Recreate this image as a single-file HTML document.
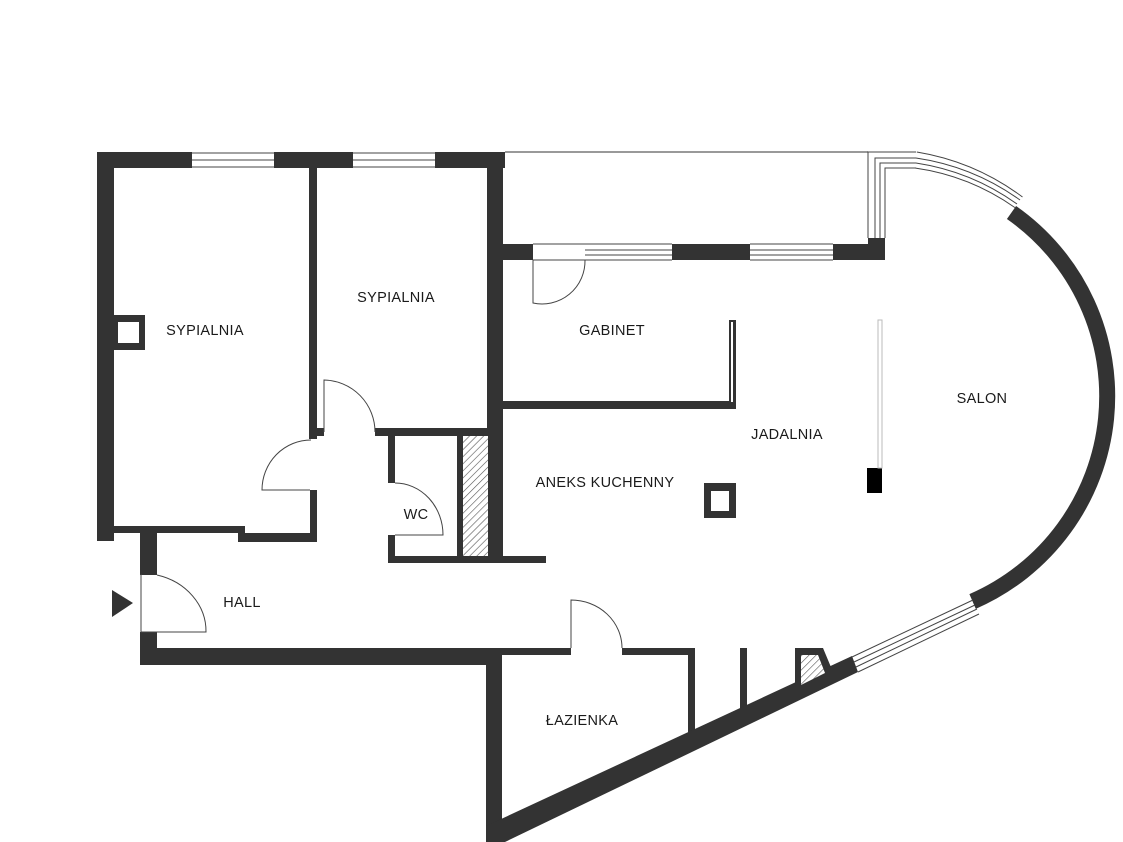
<!DOCTYPE html>
<html><head><meta charset="utf-8"><style>
html,body{margin:0;padding:0;background:#fff;}
svg{display:block;}
text{font-family:"Liberation Sans",sans-serif;font-size:14.5px;fill:#1a1a1a;text-anchor:middle;letter-spacing:0.3px;}
</style></head><body>
<svg width="1123" height="842" viewBox="0 0 1123 842" xmlns="http://www.w3.org/2000/svg">
<defs>
<pattern id="h" width="5" height="5" patternUnits="userSpaceOnUse" patternTransform="rotate(45)">
<rect width="5" height="5" fill="#fff"/><line x1="0" y1="0" x2="0" y2="5" stroke="#555" stroke-width="1.2"/>
</pattern>
</defs>
<g fill="#333">
<!-- top wall with windows -->
<rect x="97" y="152" width="95" height="16"/>
<rect x="274" y="152" width="79" height="16"/>
<rect x="435" y="152" width="70" height="16"/>
<!-- left wall -->
<rect x="97" y="152" width="17" height="389"/>
<!-- bedroom1 bottom -->
<rect x="97" y="526" width="145" height="7"/>
<rect x="238" y="533" width="79" height="9"/>
<rect x="238" y="526" width="7" height="16"/>
<!-- wall between bedrooms -->
<rect x="309" y="168" width="8" height="271"/>
<rect x="317" y="428" width="7" height="8"/>
<rect x="310" y="490" width="7" height="52"/>
<!-- right wall of bedrooms -->
<rect x="487" y="152" width="16" height="411"/>
<!-- WC -->
<rect x="375" y="428" width="115" height="8"/>
<rect x="388" y="428" width="7" height="55"/>
<rect x="388" y="535" width="7" height="28"/>
<rect x="388" y="556" width="158" height="7"/>
<rect x="457" y="436" width="6" height="122"/>
<!-- hall left -->
<rect x="140" y="533" width="17" height="42"/>
<rect x="140" y="632" width="17" height="33"/>
<rect x="140" y="648" width="362" height="17"/>
<!-- bathroom -->
<rect x="486" y="648" width="16" height="194"/>
<rect x="486" y="648" width="85" height="7"/>
<rect x="622" y="648" width="73" height="7"/>
<rect x="688" y="648" width="7" height="95"/>
<rect x="740" y="648" width="7" height="65"/>
<polygon points="795,648 823,648 833,672 801,688 795,690"/>
<polygon points="486,826 852,656 858,672 505,842 486,842"/>
<!-- gabinet top -->
<rect x="502" y="244" width="31" height="16"/>
<rect x="672" y="244" width="78" height="16"/>
<rect x="833" y="244" width="52" height="16"/>
<rect x="868" y="238" width="17" height="22"/>
<!-- gabinet bottom & right -->
<rect x="502" y="401" width="234" height="8"/>
<rect x="729" y="320" width="7" height="89"/>
<!-- columns -->
<rect x="113" y="315" width="32" height="35"/>
<rect x="704" y="483" width="32" height="35"/>
<!-- entry triangle -->
<polygon points="112,590 133,603 112,617"/>
</g>
<rect x="118" y="322" width="21" height="21" fill="#fff"/>
<rect x="711" y="491" width="18" height="20" fill="#fff"/>
<rect x="731" y="322" width="2" height="80" fill="#fff"/>
<rect x="463" y="436" width="25" height="120" fill="url(#h)"/>
<polygon points="801,655 818,655 825,673 801,685" fill="url(#h)"/>
<rect x="867" y="468" width="15" height="25" fill="#000"/>
<rect x="878" y="320" width="4" height="148" fill="#fff" stroke="#bbb" stroke-width="1"/>
<!-- arc wall -->
<path d="M1011.5,212.5 A224,224 0 0 1 972.6,601.5" fill="none" stroke="#333" stroke-width="16"/>
<g fill="none" stroke="#444" stroke-width="1">
<!-- bedroom windows -->
<line x1="192" y1="153" x2="274" y2="153"/><line x1="192" y1="160" x2="274" y2="160"/><line x1="192" y1="167" x2="274" y2="167"/>
<line x1="353" y1="153" x2="435" y2="153"/><line x1="353" y1="160" x2="435" y2="160"/><line x1="353" y1="167" x2="435" y2="167"/>
<!-- balcony -->
<line x1="505" y1="152" x2="868" y2="152" stroke="#999" stroke-width="2"/>
<polyline points="868,238 868,152 916,152"/>
<polyline points="875,238 875,158 916,158"/>
<polyline points="880,238 880,163 916,163"/>
<polyline points="885,238 885,168 916,168"/>
<path d="M916.8,152 A243,243 0 0 1 1022.5,197"/>
<path d="M916,158 A238,238 0 0 1 1020,200"/>
<path d="M916,163 A234,234 0 0 1 1017,204"/>
<path d="M915,168 A230,230 0 0 1 1015,207.6"/>
<!-- gabinet windows -->
<line x1="585" y1="244" x2="672" y2="244"/><line x1="585" y1="250" x2="672" y2="250"/><line x1="585" y1="255" x2="672" y2="255"/><line x1="585" y1="260" x2="672" y2="260"/>
<line x1="750" y1="244" x2="833" y2="244"/><line x1="750" y1="250" x2="833" y2="250"/><line x1="750" y1="255" x2="833" y2="255"/><line x1="750" y1="260" x2="833" y2="260"/>
<line x1="533" y1="244" x2="585" y2="244"/><line x1="533" y1="260" x2="585" y2="260"/>
<!-- diagonal window -->
<line x1="852" y1="657" x2="973" y2="600"/>
<line x1="854" y1="662" x2="975" y2="605"/>
<line x1="856" y1="667" x2="977" y2="609"/>
<line x1="858" y1="672" x2="979" y2="614"/>
<!-- doors -->
<path d="M533,260 L533,303 A43,43 0 0 0 585,260"/>
<path d="M324,432 L324,380 A52,52 0 0 1 375,432"/>
<path d="M311,440 A49,50 0 0 0 262,490 L310,490"/>
<path d="M395,483 A48,52 0 0 1 443,535 L395,535"/>
<path d="M141,574 L141,632 L206,632 A65,58 0 0 0 157,575"/>
<path d="M571,648 L571,600 A51,48 0 0 1 622,648"/>
</g>
<text x="205" y="335">SYPIALNIA</text>
<text x="396" y="302">SYPIALNIA</text>
<text x="612" y="335">GABINET</text>
<text x="787" y="439">JADALNIA</text>
<text x="982" y="403">SALON</text>
<text x="605" y="487">ANEKS KUCHENNY</text>
<text x="416" y="519">WC</text>
<text x="242" y="607">HALL</text>
<text x="582" y="725">ŁAZIENKA</text>
</svg>
</body></html>
